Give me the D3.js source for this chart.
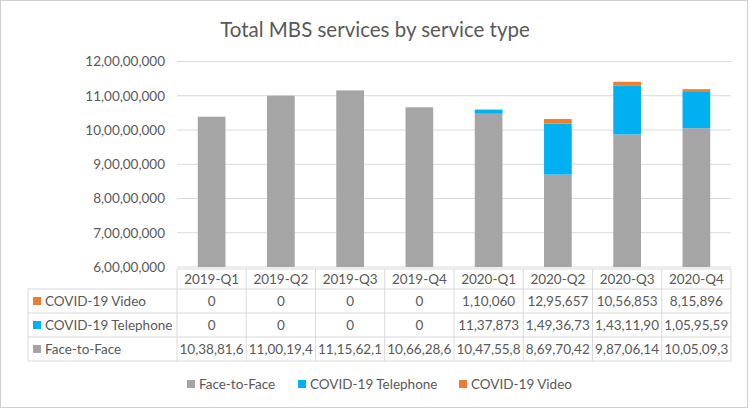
<!DOCTYPE html>
<html><head><meta charset="utf-8">
<script src="https://cdn.jsdelivr.net/npm/d3@7"></script>
<style>
html,body{margin:0;padding:0;background:#fff;}
svg{display:block;font-family:Lato,"Open Sans",sans-serif;}
</style></head>
<body><svg id="c" width="750" height="409"></svg>
<script>
const categories = ["2019-Q1","2019-Q2","2019-Q3","2019-Q4","2020-Q1","2020-Q2","2020-Q3","2020-Q4"];
const faceToFace = [103881600,110019400,111562100,106628600,104755800,86970420,98706140,100509300];
const telephone = [0,0,0,0,1137873,14936730,14311900,10595590];
const video = [0,0,0,0,110060,1295657,1056853,815896];
const seriesNames = ["Face-to-Face","COVID-19 Telephone","COVID-19 Video"];
const seriesColors = ["#A5A5A5","#00B0F0","#ED7D31"];
const yTicks = [60000000,70000000,80000000,90000000,100000000,110000000,120000000];
const title = "Total MBS services by service type";

function indian(n){
  const s = String(Math.round(n));
  if (s.length <= 3) return s;
  let last3 = s.slice(-3), rest = s.slice(0,-3);
  const parts = [];
  while (rest.length > 2){ parts.unshift(rest.slice(-2)); rest = rest.slice(0,-2); }
  if (rest.length) parts.unshift(rest);
  return parts.join(",") + "," + last3;
}

(function(){
const svg = d3.select("#c");
const W=750,H=409;
const txt="#595959", grid="#D9D9D9";
svg.append("rect").attr("x",0.5).attr("y",0.5).attr("width",W-3).attr("height",H-2).attr("fill","#fff").attr("stroke","#D0D0D0");

svg.append("text").attr("x",375).attr("y",37).attr("text-anchor","middle")
  .attr("font-size",20.5).attr("fill",txt).text(title);

const pLeft=177, pRight=731, pTop=61.5, pBottom=267;
const x = d3.scaleBand().domain(categories).range([pLeft,pRight]).paddingInner(0).paddingOuter(0);
const y = d3.scaleLinear().domain([60000000,120000000]).range([pBottom,pTop]);

svg.append("g").selectAll("line").data(yTicks).join("line")
  .attr("x1",pLeft).attr("x2",pRight).attr("y1",d=>y(d)).attr("y2",d=>y(d))
  .attr("stroke",grid).attr("stroke-width",1);

const yAxis = d3.axisLeft(y).tickValues(yTicks).tickFormat(indian).tickSize(0).tickPadding(12);
const ga = svg.append("g").attr("transform",`translate(${pLeft},0)`).call(yAxis);
ga.select(".domain").remove();
ga.selectAll("text").attr("font-size",13.5).attr("fill",txt).attr("font-family","Lato,'Open Sans',sans-serif");

const rows = categories.map((c,i)=>({cat:c, f:faceToFace[i], t:telephone[i], v:video[i]}));
const stack = d3.stack().keys(["f","t","v"])(rows);
const bw = x.bandwidth()*0.4;
svg.append("clipPath").attr("id","pc").append("rect")
  .attr("x",pLeft).attr("y",pTop-10).attr("width",pRight-pLeft).attr("height",pBottom-pTop+10);
const gb = svg.append("g").attr("clip-path","url(#pc)");
stack.forEach((s,si)=>{
  gb.append("g").attr("fill",seriesColors[si]).selectAll("rect").data(s).join("rect")
    .attr("x",d=>x(d.data.cat)+x.bandwidth()/2-bw/2)
    .attr("width",bw)
    .attr("y",d=>y(d[1]))
    .attr("height",d=>Math.max(0,y(d[0])-y(d[1])));
});

const tTop=269, hRow=20, rowH=24, labLeft=28;
const tableRows = [
  {name:"COVID-19 Video", vals:video, color:seriesColors[2]},
  {name:"COVID-19 Telephone", vals:telephone, color:seriesColors[1]},
  {name:"Face-to-Face", vals:faceToFace, color:seriesColors[0]}
];
const tg = svg.append("g");
const lineC="#D9D9D9";
tg.append("line").attr("x1",pLeft).attr("x2",pRight).attr("y1",tTop).attr("y2",tTop).attr("stroke",lineC);
const rowsTop = tTop+hRow;
const tBottom = rowsTop + rowH*3;
for(let r=0;r<=3;r++){
  tg.append("line").attr("x1",labLeft).attr("x2",pRight).attr("y1",rowsTop+r*rowH).attr("y2",rowsTop+r*rowH).attr("stroke",lineC);
}
tg.append("line").attr("x1",labLeft).attr("x2",labLeft).attr("y1",rowsTop).attr("y2",tBottom).attr("stroke",lineC);
const colEdges = categories.map(c=>x(c)).concat([pRight]);
colEdges.forEach(xe=>{
  tg.append("line").attr("x1",xe).attr("x2",xe).attr("y1",tTop).attr("y2",tBottom).attr("stroke",lineC);
});
tg.selectAll("text.hdr").data(categories).join("text").attr("class","hdr")
  .attr("x",d=>x(d)+x.bandwidth()/2).attr("y",tTop+hRow/2+5).attr("text-anchor","middle")
  .attr("font-size",13.5).attr("fill",txt).text(d=>d);

const avail = x.bandwidth()-4;
tableRows.forEach((tr,ri)=>{
  const cy = rowsTop + ri*rowH + rowH/2;
  tg.append("rect").attr("x",labLeft+5).attr("y",cy-4).attr("width",8).attr("height",8).attr("fill",tr.color);
  tg.append("text").attr("x",labLeft+17).attr("y",cy+5).attr("font-size",13.5).attr("fill",txt).text(tr.name);
  categories.forEach((c,ci)=>{
    const full = indian(tr.vals[ci]);
    const t = tg.append("text").attr("y",cy+5).attr("font-size",13.5).attr("fill",txt).text(full);
    let s = full;
    if (t.node().getComputedTextLength() > avail){
      while (s.length > 1 && t.node().getComputedTextLength() > avail){
        s = s.slice(0,-1); t.text(s);
      }
      t.attr("x",x(c)+2.5);
    } else {
      t.attr("x",x(c)+x.bandwidth()/2).attr("text-anchor","middle");
    }
  });
});

const legX=[187,298,459];
seriesNames.forEach((n,i)=>{
  const g = svg.append("g");
  g.append("rect").attr("x",legX[i]).attr("y",380).attr("width",8).attr("height",8).attr("fill",seriesColors[i]);
  g.append("text").attr("x",legX[i]+12).attr("y",389).attr("font-size",13.5).attr("fill",txt).text(n);
});
})();
</script></body></html>
